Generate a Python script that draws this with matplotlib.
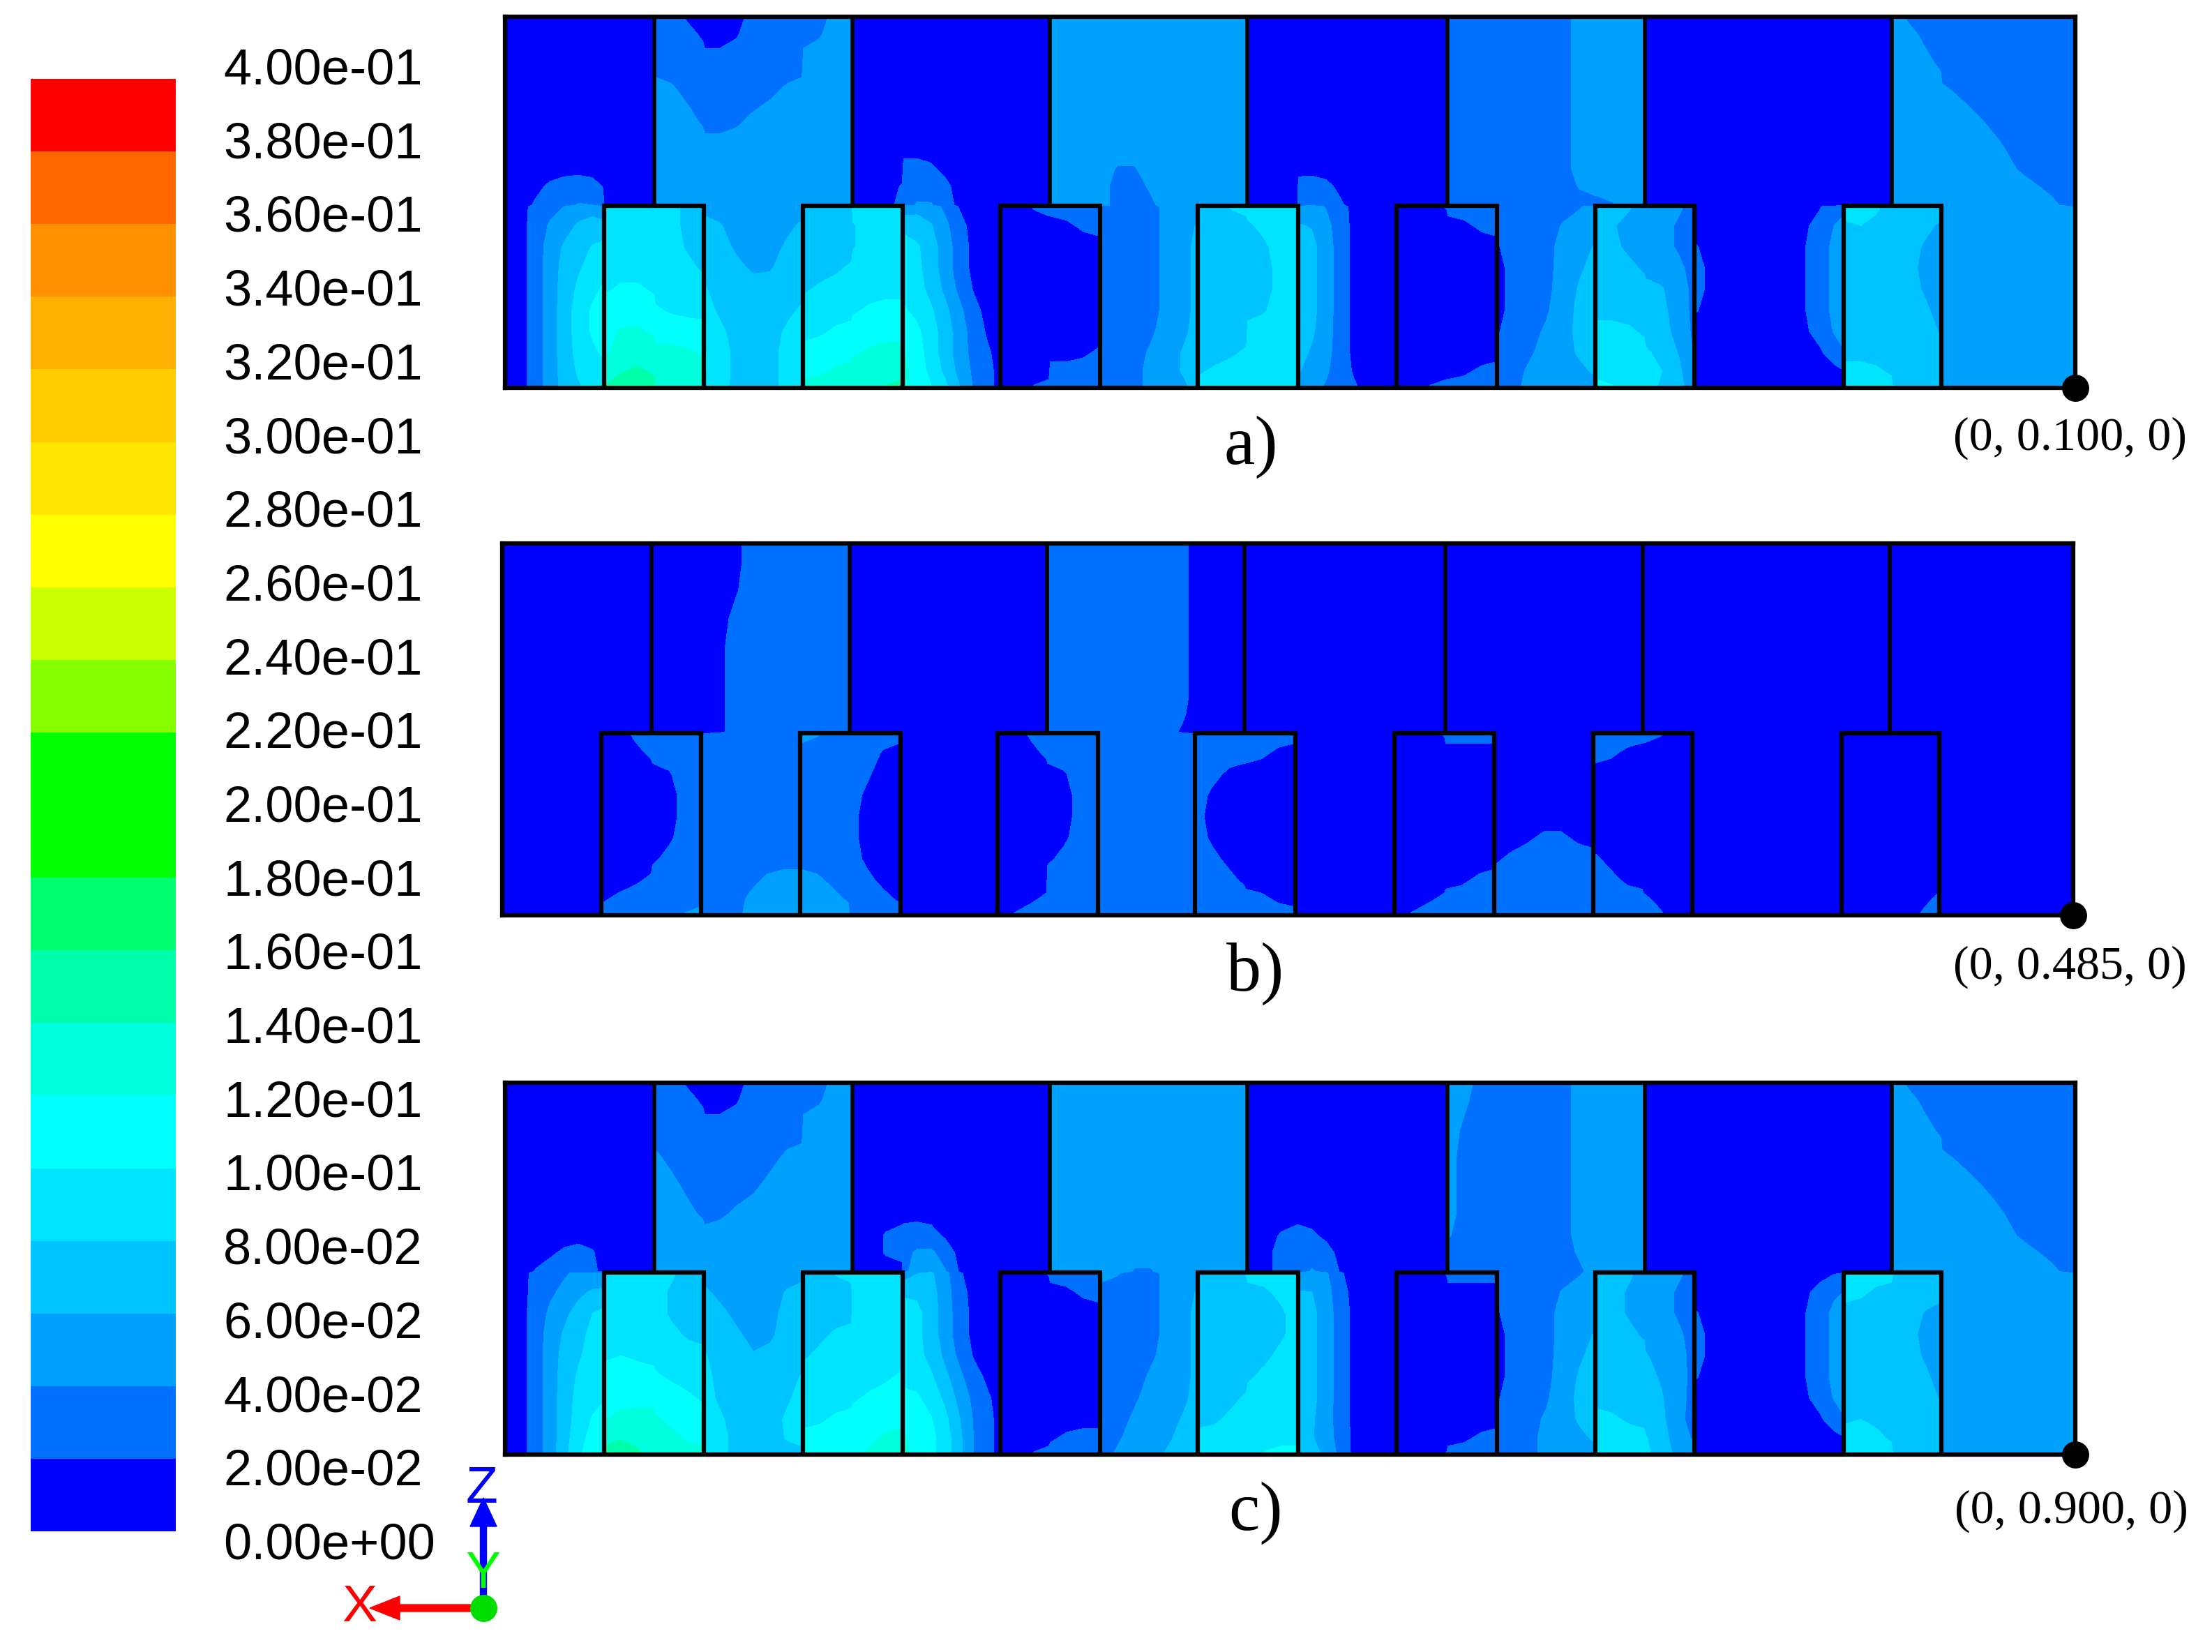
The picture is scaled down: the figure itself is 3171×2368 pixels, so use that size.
import matplotlib
matplotlib.use('Agg')
import matplotlib.pyplot as plt
import numpy as np
from matplotlib.colors import BoundaryNorm, ListedColormap

# legend values and colours, bottom band first
levels = [i * 0.02 for i in range(21)]
legend_labels = ['0.00e+00', '2.00e-02', '4.00e-02', '6.00e-02', '8.00e-02', '1.00e-01', '1.20e-01',
                 '1.40e-01', '1.60e-01', '1.80e-01', '2.00e-01', '2.20e-01', '2.40e-01', '2.60e-01',
                 '2.80e-01', '3.00e-01', '3.20e-01', '3.40e-01', '3.60e-01', '3.80e-01', '4.00e-01']
band_colors = ['#0000ff', '#0070ff', '#00a0ff', '#00c4ff', '#00e5ff', '#00ffff', '#00ffdd', '#00ffaa',
               '#00ff70', '#00ff00', '#00ff00', '#88ff00', '#ccff00', '#ffff00', '#ffe500', '#ffcc00',
               '#ffb000', '#ff9000', '#ff6600', '#ff0000']

# grid the bands were read on (walls get a column each side)
grid_x = [358, 370, 380, 390, 400, 410, 420, 427.5,
          428.5, 440, 452, 463.5, 464.5, 476, 488, 498.5,
          499.5, 510, 522, 534, 546, 558, 568.5,
          569.5, 581, 593, 603.5, 604.5, 616, 628, 639.5,
          640.5, 650, 660, 670, 680, 690, 700, 708.5,
          709.5, 721, 733, 743.5, 744.5, 756, 768, 779.5,
          780.5, 792, 804, 816, 828, 840, 848.5,
          849.5, 861, 873, 883.5, 884.5, 896, 908, 919.5,
          920.5, 930, 940, 950, 960, 970, 980, 989.5,
          990.5, 1002, 1014, 1025.5, 1026.5, 1038, 1050, 1060.5,
          1061.5, 1072, 1084, 1096, 1108, 1120, 1130.5,
          1131.5, 1143, 1155, 1165.5, 1166.5, 1178, 1190, 1200.5,
          1201.5, 1215, 1230, 1245, 1260, 1275, 1290, 1300, 1306.5,
          1307.5, 1319, 1330, 1340.5, 1341.5, 1353, 1365, 1375.5,
          1376.5, 1395, 1415, 1435, 1455, 1471]
grid_y = [12, 24, 45, 65, 85, 105, 120, 132, 145.5, 146.5, 160, 175, 190, 205, 220, 235, 250, 263, 275]

# band index per cell, one string per row of grid_y
panel_a_rows = [
    "00000000 0000 1100 0001111 1122 0000 00000000 0000 2222 2222222 2222 0000 00000000 0000 1111 1111122 2222 0000 000000000 0000 2111 111111",
    "00000000 0000 1110 0001111 1122 0000 00000000 0000 2222 2222222 2222 0000 00000000 0000 1111 1111122 2222 0000 000000000 0000 2211 111111",
    "00000000 0000 1111 1111111 2222 0000 00000000 0000 2222 2222222 2222 0000 00000000 0000 1111 1111122 2222 0000 000000000 0000 2221 111111",
    "00000000 0000 2211 1111122 2222 0000 00000000 0000 2222 2222222 2222 0000 00000000 0000 1111 1111122 2222 0000 000000000 0000 2222 211111",
    "00000000 0000 2221 1112222 2222 0000 00000000 0000 2222 2222222 2222 0000 00000000 0000 1111 1111122 2222 0000 000000000 0000 2222 221111",
    "00000000 0000 2222 2222222 2222 0000 00000000 0000 2222 2222222 2222 0000 00000000 0000 1111 1111122 2222 0000 000000000 0000 2222 222111",
    "00000000 0000 2222 2222222 2222 0000 11100000 0000 2222 2112222 2222 0000 00000000 0000 1111 1111122 2222 0000 000000000 0000 2222 222111",
    "00011110 0000 2222 2222222 2222 0001 11110000 0000 2222 2112222 2222 0000 11100000 0000 1111 1111122 2222 0000 000000000 0000 2222 222211",
    "00111221 0000 2222 2222222 2222 0001 12210000 0000 2222 2111222 2222 0000 12110000 0000 1111 1111111 1122 0000 000000000 0000 2222 222221",
    "00111221 4444 4433 2222222 3333 4444 12210000 0011 1111 1111222 3344 4444 12110000 0001 1111 1111112 3332 2221 000000011 4443 3333 222221",
    "00122333 4444 4433 3322223 3333 3444 43321000 0000 0011 1111223 3333 3444 33210000 0000 0011 1111222 3222 2211 000000122 3433 3332 222222",
    "00123344 4444 4433 3322233 3333 3444 44321000 0000 0000 1111223 3333 3344 33210000 0000 0000 0111223 3322 2211 100000122 3333 3322 222222",
    "00123344 4444 4443 3332233 3334 4444 44321000 0000 0000 1111223 3333 3344 33210000 0000 0000 0111223 3332 2221 100000122 3333 3322 222222",
    "00123445 4554 4444 4333333 3444 4444 44321000 0000 0000 1111223 3333 3344 33210000 0000 0000 0111233 3333 3321 100000122 3333 3322 222222",
    "00123455 5555 5444 4333334 4444 4555 54432100 0000 0000 1111223 3333 3344 33210000 0000 0000 0111233 3333 3321 100000122 3333 3332 222222",
    "00123455 5665 5555 4433344 4455 5555 55432100 0000 0000 1111223 3333 4444 33210000 0000 0000 0112233 4443 3321 000000122 3333 3332 322222",
    "00123445 5666 6665 5433344 5555 5666 65432110 0000 0001 1112233 3334 4444 32210000 0000 0000 1112233 4444 4331 000000012 3333 3333 222222",
    "00123444 5776 6666 5433344 5566 6666 65432110 0000 1111 1112233 3444 4444 32210000 0000 0011 1122223 4444 4431 000000000 4443 3333 222222",
    "00123344 7777 7666 4433344 6666 6677 65543110 0011 1111 1112223 4444 4454 22111000 0011 1111 1122222 5544 4332 000000000 4444 4333 222222",
]
panel_b_rows = [
    "00000000 0000 0000 0001111 1111 0000 00000000 0000 1111 1111110 0000 0000 00000000 0000 0000 0000000 0000 0000 000000000 0000 0000 000000",
    "00000000 0000 0000 0001111 1111 0000 00000000 0000 1111 1111110 0000 0000 00000000 0000 0000 0000000 0000 0000 000000000 0000 0000 000000",
    "00000000 0000 0000 0001111 1111 0000 00000000 0000 1111 1111110 0000 0000 00000000 0000 0000 0000000 0000 0000 000000000 0000 0000 000000",
    "00000000 0000 0000 0011111 1111 0000 00000000 0000 1111 1111110 0000 0000 00000000 0000 0000 0000000 0000 0000 000000000 0000 0000 000000",
    "00000000 0000 0000 0011111 1111 0000 00000000 0000 1111 1111110 0000 0000 00000000 0000 0000 0000000 0000 0000 000000000 0000 0000 000000",
    "00000000 0000 0000 0011111 1111 0000 00000000 0000 1111 1111110 0000 0000 00000000 0000 0000 0000000 0000 0000 000000000 0000 0000 000000",
    "00000000 0000 0000 0011111 1111 0000 00000000 0000 1111 1111110 0000 0000 00000000 0000 0000 0000000 0000 0000 000000000 0000 0000 000000",
    "00000000 0000 0000 0011111 1111 0000 00000000 0000 1111 1111110 0000 0000 00000000 0000 0000 0000000 0000 0000 000000000 0000 0000 000000",
    "00000000 0000 0000 0011111 1111 0000 00000000 0000 1111 1111100 0000 0000 00000000 0000 0000 0000000 0000 0000 000000000 0000 0000 000000",
    "00000000 0011 1111 0111111 2211 1111 00000000 0011 1111 1111110 1111 1111 00000000 0001 1111 0000000 1111 1100 000000000 0000 0000 000000",
    "00000000 0001 1111 1111111 1111 1100 00000000 0001 1111 1111111 1111 1100 00000000 0000 0000 0000011 1100 0000 000000000 0000 0000 000000",
    "00000000 0000 0011 1111111 1111 1100 00000000 0000 0011 1111111 1100 0000 00000000 0000 0000 0000000 0000 0000 000000000 0000 0000 000000",
    "00000000 0000 0011 1111111 1111 1000 00000000 0000 0011 1111111 1000 0000 00000000 0000 0000 0000000 0000 0000 000000000 0000 0000 000000",
    "00000000 0000 0011 1111111 1111 1000 00000000 0000 0011 1111111 1000 0000 00000000 0000 0000 0000000 0000 0000 000000000 0000 0000 000000",
    "00000000 0000 0011 1111111 1111 1000 00000000 0000 0011 1111111 1000 0000 00000000 0000 0000 0001100 0000 0000 000000000 0000 0000 000000",
    "00000000 0000 0111 1111111 1111 1000 00000000 0000 0111 1111111 1100 0000 00000000 0000 0000 0111111 1000 0000 000000000 0000 0000 000000",
    "00000000 0001 1111 1111222 2211 1100 00000000 0000 1111 1111111 1110 0000 00000000 0000 0011 1111111 1100 0000 000000000 0000 0000 000000",
    "00000000 0111 1111 1112222 2221 1110 00000000 0001 1111 1111111 1111 1100 00000000 0001 1111 1111111 1111 1000 000000000 0000 0001 000000",
    "00000000 1111 1122 1112222 2222 1111 00000000 0111 1111 1111111 1111 1111 00000000 0111 1111 1111111 1111 1100 000000000 0000 0011 000000",
]
panel_c_rows = [
    "00000000 0000 1100 0001111 1122 0000 00000000 0000 2222 2222222 2222 0000 00000000 0000 2211 1111122 2222 0000 000000000 0000 2111 111111",
    "00000000 0000 1110 0001111 1122 0000 00000000 0000 2222 2222222 2222 0000 00000000 0000 2211 1111122 2222 0000 000000000 0000 2211 111111",
    "00000000 0000 1111 1111111 2222 0000 00000000 0000 2222 2222222 2222 0000 00000000 0000 2111 1111122 2222 0000 000000000 0000 2221 111111",
    "00000000 0000 2111 1111122 2222 0000 00000000 0000 2222 2222222 2222 0000 00000000 0000 2111 1111122 2222 0000 000000000 0000 2222 211111",
    "00000000 0000 2211 1111222 2222 0000 00000000 0000 2222 2222222 2222 0000 00000000 0000 2111 1111122 2222 0000 000000000 0000 2222 221111",
    "00000000 0000 2221 1122222 2222 0000 00000000 0000 2222 2222222 2222 0000 00000000 0000 2111 1111122 2222 0000 000000000 0000 2222 222111",
    "00000000 0000 2222 2222222 2222 0011 11100000 0000 2222 2222222 2222 0011 11000000 0000 2111 1111122 2222 0000 000000000 0000 2222 222111",
    "00001110 0000 2222 2222222 2222 0011 12210000 0000 2222 2222222 2222 0011 11100000 0000 1111 1111122 2222 0000 000000000 0000 2222 222211",
    "00111110 0000 2222 2222222 2222 0000 12320000 0000 2222 2211222 2222 0011 12200000 0000 1111 1111112 2222 0000 000000000 0000 2222 222221",
    "00111211 4444 4433 2222222 3344 4444 12320000 0001 1111 2211222 3334 4444 12200000 0001 1111 1111112 3332 2221 000000000 4444 4333 222221",
    "00112233 4444 4333 3222233 3333 4444 44321000 0000 0011 1111223 3333 3344 33210000 0000 0000 1111222 3322 2211 000000122 4433 3333 222222",
    "00122344 4444 4333 3322233 3333 4444 44321000 0000 0000 1111223 3333 3334 33210000 0000 0000 0111222 3322 2211 100000122 3333 3322 222222",
    "00123344 4444 4433 3332233 3344 4444 44321000 0000 0000 1111223 3333 3334 33210000 0000 0000 0111223 3332 2221 100000122 3333 3322 222222",
    "00123344 4544 4444 4332333 3444 4444 44321000 0000 0000 1111223 3333 3344 33210000 0000 0000 0111223 3333 3221 100000122 3333 3322 222222",
    "00123445 5555 5444 4333334 4444 4445 44432100 0000 0000 1112223 3333 3444 33210000 0000 0000 0111233 3333 3221 100000122 3333 3332 222222",
    "00123444 5555 5554 4333334 4444 4555 55432110 0000 0000 1112223 3334 4444 33210000 0000 0000 0111233 3333 3321 000000122 3333 3332 222222",
    "00123455 5666 6555 4433344 4455 5555 55543110 0000 0000 1122233 3344 4444 33210000 0000 0000 1112233 4433 3311 000000012 3433 3333 222222",
    "00123455 6766 6655 4433344 5555 5566 65543110 0000 0111 1122233 4444 4444 32210000 0000 0011 1112223 4444 4321 000000000 4443 3333 222222",
    "00123555 7776 6666 4433333 5555 5666 65543110 0011 1111 1222333 4444 4555 33310000 0001 1111 1112222 4444 4322 000000000 4444 4333 222222",
]

# geometry of the duct, in the same grid units
box_left = [428, 569, 709, 849, 990, 1131, 1307]
box_right = [499, 640, 780, 920, 1061, 1201, 1376]
baffle_x = [464, 604, 744, 884, 1026, 1166, 1341]
box_top = 146
panel_names = ['a)', 'b)', 'c)']
point_labels = ['(0, 0.100, 0)', '(0, 0.485, 0)', '(0, 0.900, 0)']
all_rows = [panel_a_rows, panel_b_rows, panel_c_rows]

W, H = 3171, 2368
plt.rcParams['font.family'] = ['Liberation Sans', 'DejaVu Sans']
fig = plt.figure(figsize=(W / 100, H / 100), dpi=100, facecolor='white')


def add_px_axes(left, top, right, bottom):
    return fig.add_axes([left / W, 1 - bottom / H, (right - left) / W, (bottom - top) / H])


def soften(field, xs, ys):
    # takes the stairs out of the band edges, never across a wall (twin columns/rows)
    out = field.astype(float)
    for axis, pos in ((1, xs), (0, ys)):
        prev = out.copy()
        for i in range(len(pos)):
            a = i - 1 if i > 0 and pos[i] - pos[i - 1] > 1 else i
            b = i + 1 if i < len(pos) - 1 and pos[i + 1] - pos[i] > 1 else i
            if axis == 1:
                out[:, i] = 0.25 * prev[:, a] + 0.5 * prev[:, i] + 0.25 * prev[:, b]
            else:
                out[i, :] = 0.25 * prev[a, :] + 0.5 * prev[i, :] + 0.25 * prev[b, :]
    return out


cmap = ListedColormap(band_colors)
norm = BoundaryNorm(levels, cmap.N)

# colour bar
cax = add_px_axes(44, 113, 252, 2195)
mids = np.array([(levels[i] + levels[i + 1]) / 2 for i in range(20)]).reshape(-1, 1)
cax.pcolormesh([0, 1], levels, mids, cmap=cmap, norm=norm)
cax.axis('off')

# contour panels
panel_boxes = [(724, 24, 2975, 556), (720, 779, 2972, 1312), (724, 1552, 2975, 2085)]
for rows, box in zip(all_rows, panel_boxes):
    ax = add_px_axes(*box)
    cells = np.array([[int(c) for c in r.replace(' ', '')] for r in rows])
    field = soften((cells + 0.5) * 0.02, grid_x, grid_y)
    ax.contourf(grid_x, grid_y, field, levels=levels, colors=band_colors, antialiased=False)
    ax.set_xlim(358, 1471)
    ax.set_ylim(275, 12)
    ax.set_xticks([])
    ax.set_yticks([])
    for s in ax.spines.values():
        s.set_linewidth(4.5)
    for l, r, b in zip(box_left, box_right, baffle_x):
        ax.plot([l, l, r, r], [275, box_top, box_top, 275], color='black', lw=4.5, solid_joinstyle='miter')
        ax.plot([b, b], [12, box_top], color='black', lw=4)
    ax.plot([1471], [275], 'o', color='black', ms=27, clip_on=False, zorder=10)

# texts and triad, in pixels of the figure
ov = fig.add_axes([0, 0, 1, 1], facecolor='none')
ov.set_xlim(0, W)
ov.set_ylim(H, 0)
ov.axis('off')

for i, lab in enumerate(legend_labels):
    ov.text(320, 2216 - i * 105.7, lab, fontsize=52, ha='left', va='center', color='black')

serif = ['Liberation Serif', 'DejaVu Serif']
name_xy = [(1793, 641), (1800, 1396), (1800, 2169)]
point_xy = [(2967, 628), (2967, 1386), (2969, 2166)]
for name, nxy, pl, pxy in zip(panel_names, name_xy, point_labels, point_xy):
    ov.text(nxy[0], nxy[1], name, fontsize=72, family=serif, ha='center', va='center', color='black')
    ov.text(pxy[0], pxy[1], pl, fontsize=49, family=serif, ha='center', va='center', color='black')

ov.arrow(693, 2305, 0, -117, width=9, head_width=38, head_length=41, color='#0000ff', length_includes_head=False)
ov.arrow(693, 2305, -120, 0, width=10, head_width=34, head_length=43, color='#ff0000', length_includes_head=False)
ov.plot([693], [2305], 'o', color='#00dd00', ms=27, zorder=6)
ov.text(691, 2135, 'Z', fontsize=54, color='#0000ff', ha='center', va='center')
ov.text(692, 2257, 'Y', fontsize=54, color='#00ff00', ha='center', va='center', zorder=5)
ov.text(515, 2304, 'X', fontsize=54, color='#ff0000', ha='center', va='center')

fig.savefig('out.png', dpi=100)
